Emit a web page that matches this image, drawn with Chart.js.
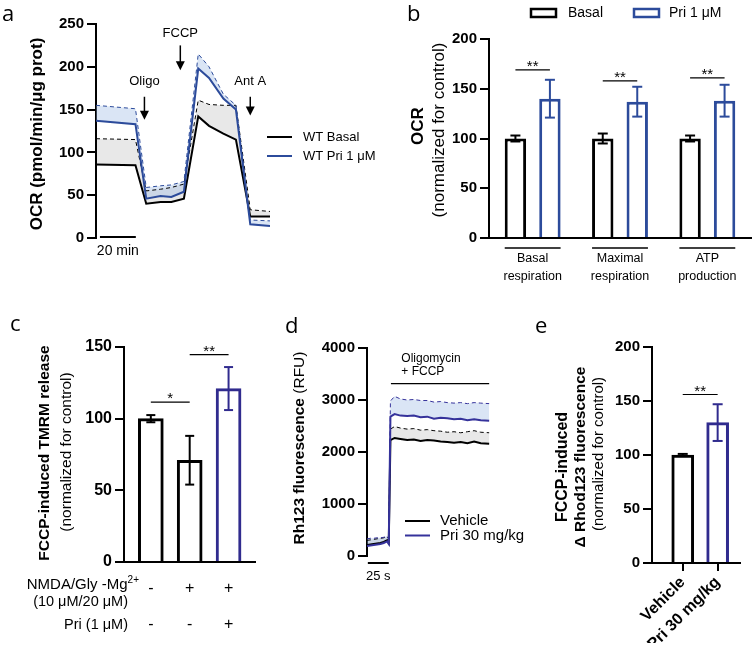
<!DOCTYPE html>
<html><head><meta charset="utf-8">
<script src="https://cdn.jsdelivr.net/npm/chart.js@4.4.0/dist/chart.umd.min.js"></script>
<style>
body{margin:0;background:#fff;width:752px;height:654px;overflow:hidden;position:relative}
canvas{position:absolute;left:0;top:0}
</style></head>
<body>
<canvas id="ca" width="752" height="654"></canvas>
<canvas id="cb" width="752" height="654"></canvas>
<canvas id="cc" width="752" height="654"></canvas>
<canvas id="cd" width="752" height="654"></canvas>
<canvas id="ce" width="752" height="654"></canvas>
<script>
// ---------- DATA ----------
// Panel a : OCR trace (minutes)
const aTime = [0, 22, 28, 36, 42, 49, 57, 63, 71, 78, 86, 97];
const aBasal = [86, 85, 40, 42, 42, 46, 142, 131, 122, 115, 25, 25];
const aBasalUpper = [116, 115, 55, 57, 59, 63, 161, 156, 155, 155, 33, 31];
const aPri = [137, 133, 46, 49, 48, 54, 198, 187, 163, 150, 16, 14];
const aPriUpper = [155, 151, 59, 61, 62, 66, 215, 200, 168, 155, 21, 20];
const aSeries = ['WT Basal', 'WT Pri 1 \u03bcM'];
const aInjLabels = ['Oligo', 'FCCP', 'Ant A'];
const aInjTimes = [27, 47, 86];
const aTicks = [0, 50, 100, 150, 200, 250];

// Panel b : normalized OCR
const bCategories = [['Basal', 'respiration'], ['Maximal', 'respiration'], ['ATP', 'production']];
const bSeries = ['Basal', 'Pri 1 \u03bcM'];
const bBasal = [100, 100, 100];
const bBasalErr = [3, 5, 3];
const bPri = [140, 137, 138];
const bPriErr = [19, 15, 16];
const bSig = ['**', '**', '**'];

// Panel c : TMRM release
const cMeans = [100, 71, 121];
const cErr = [2.5, 17, 15];
const cNmda = ['-', '+', '+'];
const cPriRow = ['-', '-', '+'];

// Panel d : Rh123 fluorescence trace (seconds)
const dTime = [0, 4, 8, 12, 16, 20, 24, 26, 28, 33, 40, 48, 56, 64, 72, 80, 88, 96, 104, 112, 120, 128, 136, 146];
const dVehicle = [210, 220, 230, 240, 250, 270, 300, 250, 2230, 2270, 2250, 2230, 2240, 2210, 2230, 2220, 2200, 2190, 2180, 2190, 2170, 2200, 2170, 2160];
const dVehicleUpper = [300, 310, 320, 330, 340, 350, 370, 330, 2440, 2490, 2460, 2440, 2450, 2420, 2430, 2410, 2400, 2380, 2390, 2370, 2390, 2410, 2380, 2370];
const dPri = [190, 200, 210, 220, 230, 250, 280, 230, 2680, 2730, 2700, 2690, 2700, 2670, 2680, 2640, 2660, 2650, 2630, 2640, 2610, 2630, 2610, 2600];
const dPriUpper = [330, 340, 340, 350, 350, 360, 380, 340, 2980, 3070, 3020, 3000, 3010, 2990, 2990, 2960, 2970, 2950, 2940, 2950, 2930, 2950, 2940, 2930];
const dSeries = ['Vehicle', 'Pri 30 mg/kg'];

// Panel e : Rhod123
const eLabels = ['Vehicle', 'Pri 30 mg/kg'];
const eMeans = [100, 130];
const eErr = [1, 17];

// ---------- STYLE ----------
const FONT = '"Liberation Sans", Arial, Helvetica, sans-serif';
const LFONT = '"Open Sans", "Liberation Sans", sans-serif';
const BLUE_A = '#2c4b9b';
const BLUE_C = '#302b8e';
const BLUE_D = '#35329b';
const FILL_BLUE = 'rgba(150,180,225,0.35)';
const FILL_GRAY = 'rgba(0,0,0,0.09)';

function T(ctx, s, x, y, o = {}) {
  ctx.save();
  ctx.font = `${o.weight || 'normal'} ${o.size || 14}px ${o.family || FONT}`;
  ctx.fillStyle = o.color || '#000';
  ctx.textAlign = o.align || 'center';
  ctx.textBaseline = o.base || 'middle';
  ctx.translate(x, y);
  if (o.rot) ctx.rotate(o.rot);
  ctx.fillText(s, 0, 0);
  ctx.restore();
}
function L(ctx, x1, y1, x2, y2, color = '#000', w = 1.5, dash = []) {
  ctx.save();
  ctx.strokeStyle = color; ctx.lineWidth = w; ctx.setLineDash(dash);
  ctx.beginPath(); ctx.moveTo(x1, y1); ctx.lineTo(x2, y2); ctx.stroke();
  ctx.restore();
}
function vtitle(ctx, parts, x, y) {
  ctx.save();
  ctx.translate(x, y); ctx.rotate(-Math.PI / 2);
  ctx.textBaseline = 'middle'; ctx.textAlign = 'left'; ctx.fillStyle = '#000';
  let total = 0;
  const ws = parts.map(p => { ctx.font = `${p.w} ${p.s}px ${FONT}`; const m = ctx.measureText(p.t).width; total += m; return m; });
  let cx = -total / 2;
  parts.forEach((p, i) => { ctx.font = `${p.w} ${p.s}px ${FONT}`; ctx.fillText(p.t, cx, 0); cx += ws[i]; });
  ctx.restore();
}
function arrowDown(ctx, x, yTop, yTip) {
  ctx.save();
  ctx.strokeStyle = '#000'; ctx.fillStyle = '#000'; ctx.lineWidth = 1.5;
  ctx.beginPath(); ctx.moveTo(x, yTop); ctx.lineTo(x, yTip - 6); ctx.stroke();
  ctx.beginPath(); ctx.moveTo(x - 4.5, yTip - 9); ctx.lineTo(x + 4.5, yTip - 9); ctx.lineTo(x, yTip); ctx.closePath(); ctx.fill();
  ctx.restore();
}
function pad(l, t, r, b, yW, xH) { return { left: l - yW, top: t, right: 752 - r, bottom: 654 - b - xH }; }
function yAxis(min, max, step, W, size = 15) {
  return {
    min, max,
    ticks: { stepSize: step, color: '#000', font: { family: FONT, size, weight: 'bold' }, padding: 3, callback: v => String(v) },
    grid: { display: true, drawOnChartArea: false, drawTicks: true, tickLength: 9, color: '#000', lineWidth: 2 },
    border: { display: true, color: '#000', width: 2 },
    afterFit(s) { s.width = W; }
  };
}
const baseOpts = () => ({
  responsive: false, animation: false, events: [],
  plugins: { legend: { display: false }, tooltip: { enabled: false }, filler: { drawTime: 'beforeDatasetsDraw' } }
});
const xy = (xs, ys) => xs.map((x, i) => ({ x, y: ys[i] }));

// error bars on bar charts
const errPlugin = {
  id: 'errbars',
  afterDatasetsDraw(chart) {
    const ctx = chart.ctx, ys = chart.scales.y;
    chart.data.datasets.forEach((ds, di) => {
      if (!ds.err) return;
      const meta = chart.getDatasetMeta(di);
      meta.data.forEach((bar, i) => {
        const v = meta.controller.getParsed(i).y;
        const col = Array.isArray(ds.borderColor) ? ds.borderColor[i] : ds.borderColor;
        const yt = ys.getPixelForValue(v + ds.err[i]);
        const yb = ys.getPixelForValue(v - ds.err[i]);
        const hw = ds.capHalf || 4.5;
        L(ctx, bar.x, yt, bar.x, yb, col, 2);
        L(ctx, bar.x - hw, yt, bar.x + hw, yt, col, 2);
        L(ctx, bar.x - hw, yb, bar.x + hw, yb, col, 2);
      });
    });
  }
};
function sigPlugin(list) {
  return {
    id: 'sig',
    afterDatasetsDraw(chart) {
      const ctx = chart.ctx, ys = chart.scales.y;
      list.forEach(s => {
        const xa = chart.getDatasetMeta(s.a[0]).data[s.a[1]].x;
        const xb = chart.getDatasetMeta(s.b[0]).data[s.b[1]].x;
        const py = ys.getPixelForValue(s.y);
        L(ctx, xa, py, xb, py, '#000', 1.2);
        T(ctx, s.text, (xa + xb) / 2, py + 1, { size: 15, base: 'alphabetic' });
      });
    }
  };
}

// ---------- PANEL A ----------
(function () {
  const o = baseOpts();
  o.layout = { padding: pad(96, 24, 270, 238, 60, 0) };
  o.scales = {
    x: { type: 'linear', min: 0, max: 97, display: false },
    y: Object.assign(yAxis(0, 250, 50, 60), { afterBuildTicks(s) { s.ticks = aTicks.map(v => ({ value: v })); } })
  };
  o.elements = { line: { tension: 0 }, point: { radius: 0 } };
  new Chart(document.getElementById('ca'), {
    type: 'line',
    data: {
      datasets: [
        { data: xy(aTime, aBasal), borderColor: '#000', borderWidth: 2, fill: false, order: 1 },
        { data: xy(aTime, aBasalUpper), borderColor: '#000', borderWidth: 1, borderDash: [4, 3], fill: { target: 0 }, backgroundColor: FILL_GRAY, order: 1 },
        { data: xy(aTime, aPri), borderColor: BLUE_A, borderWidth: 2, fill: false, order: 0 },
        { data: xy(aTime, aPriUpper), borderColor: BLUE_A, borderWidth: 1, borderDash: [4, 3], fill: { target: 2 }, backgroundColor: FILL_BLUE, order: 0 }
      ]
    },
    options: o,
    plugins: [{
      id: 'annA',
      afterDraw(c) {
        const ctx = c.ctx, xs = c.scales.x, ys = c.scales.y;
        const textY = [183, 239, 183], top = [165, 225, 165], tip = [138, 196, 143];
        aInjLabels.forEach((lab, i) => {
          const x = xs.getPixelForValue(aInjTimes[i]);
          T(ctx, lab, x, ys.getPixelForValue(textY[i]), { size: 13 });
          arrowDown(ctx, x, ys.getPixelForValue(top[i]), ys.getPixelForValue(tip[i]));
        });
        const y0 = ys.getPixelForValue(0) - 1;
        const x1 = xs.getPixelForValue(2.2), x2 = xs.getPixelForValue(22.2);
        L(ctx, x1, y0, x2, y0, '#000', 2);
        T(ctx, '20 min', (x1 + x2) / 2, y0 + 14, { size: 14 });
        aSeries.forEach((name, i) => {
          const y = 137 + i * 19;
          L(ctx, 267, y, 292, y, i ? BLUE_A : '#000', 2);
          T(ctx, name, 303, y, { size: 13, align: 'left' });
        });
        vtitle(ctx, [{ t: 'OCR (pmol/min/\u03bcg prot)', w: 'bold', s: 17 }], 37, 134);
        T(ctx, 'a', 2, 21, { size: 22, align: 'left', base: 'alphabetic', family: LFONT });
      }
    }]
  });
})();

// ---------- PANEL B ----------
(function () {
  const o = baseOpts();
  o.layout = { padding: pad(489, 39, 751, 238, 60, 45) };
  o.scales = {
    x: {
      type: 'category', offset: true,
      ticks: { color: '#000', font: { family: FONT, size: 12.5, lineHeight: 1.4 }, padding: 12 },
      grid: { display: false, drawTicks: false },
      border: { display: true, color: '#000', width: 2 },
      afterFit(s) { s.height = 45; }
    },
    y: yAxis(0, 200, 50, 60)
  };
  new Chart(document.getElementById('cb'), {
    type: 'bar',
    data: {
      labels: bCategories,
      datasets: [
        { label: bSeries[0], data: bBasal, err: bBasalErr, borderColor: '#000', backgroundColor: '#fff', borderWidth: 3, categoryPercentage: 0.79, barPercentage: 0.62, capHalf: 5 },
        { label: bSeries[1], data: bPri, err: bPriErr, borderColor: BLUE_A, backgroundColor: '#fff', borderWidth: 3, categoryPercentage: 0.79, barPercentage: 0.62, capHalf: 5 }
      ]
    },
    options: o,
    plugins: [errPlugin, sigPlugin([
      { a: [0, 0], b: [1, 0], y: 169, text: bSig[0] },
      { a: [0, 1], b: [1, 1], y: 158, text: bSig[1] },
      { a: [0, 2], b: [1, 2], y: 161, text: bSig[2] }
    ]), {
      id: 'annB',
      afterDraw(c) {
        const ctx = c.ctx;
        const m0 = c.getDatasetMeta(0), m1 = c.getDatasetMeta(1);
        const yb = c.chartArea.bottom + 10;
        m0.data.forEach((b, i) => {
          const r = m1.data[i];
          L(ctx, b.x - b.width / 2, yb, r.x + r.width / 2, yb, '#000', 1.3);
        });
        [['#000', 531, 568], [BLUE_A, 634, 669]].forEach((s, i) => {
          ctx.save(); ctx.strokeStyle = s[0]; ctx.lineWidth = 2.5; ctx.strokeRect(s[1], 9, 25, 8); ctx.restore();
          T(ctx, bSeries[i], s[2], 13.5, { size: 14, align: 'left' });
        });
        vtitle(ctx, [{ t: 'OCR', w: 'bold', s: 17 }], 418, 126);
        vtitle(ctx, [{ t: '(normalized for control)', w: 'normal', s: 17 }], 439, 130);
        T(ctx, 'b', 407, 21, { size: 22, align: 'left', base: 'alphabetic', family: LFONT });
      }
    }]
  });
})();

// ---------- PANEL C ----------
(function () {
  const o = baseOpts();
  o.layout = { padding: pad(124, 347, 255, 562, 60, 10) };
  o.scales = {
    x: {
      type: 'linear', min: 0.31, max: 3.68, offset: false,
      ticks: { display: false }, grid: { display: false, drawTicks: false, offset: false },
      border: { display: true, color: '#000', width: 2 },
      afterFit(s) { s.height = 10; }
    },
    y: yAxis(0, 150, 50, 60, 16)
  };
  new Chart(document.getElementById('cc'), {
    type: 'bar',
    data: {
      datasets: [{
        data: xy([1, 2, 3], cMeans), err: cErr,
        borderColor: ['#000', '#000', BLUE_C], backgroundColor: '#fff', borderWidth: 3, barThickness: 25, capHalf: 4.5
      }]
    },
    options: o,
    plugins: [errPlugin, sigPlugin([
      { a: [0, 0], b: [0, 1], y: 111.5, text: '*' },
      { a: [0, 1], b: [0, 2], y: 144.7, text: '**' }
    ]), {
      id: 'annC',
      afterDraw(c) {
        const ctx = c.ctx, xs = c.scales.x;
        [1, 2, 3].forEach((v, i) => {
          const x = xs.getPixelForValue(v);
          T(ctx, cNmda[i], x, 589, { size: 16 });
          T(ctx, cPriRow[i], x, 625, { size: 16 });
        });
        ctx.save();
        ctx.font = `normal 10px ${FONT}`;
        const supW = ctx.measureText('2+').width;
        ctx.restore();
        T(ctx, 'NMDA/Gly -Mg', 139 - supW, 585, { size: 15, align: 'right' });
        T(ctx, '2+', 139 - supW, 580, { size: 10, align: 'left' });
        T(ctx, '(10 \u03bcM/20 \u03bcM)', 128, 602, { size: 14.5, align: 'right' });
        T(ctx, 'Pri (1 \u03bcM)', 128, 625, { size: 14.5, align: 'right' });
        vtitle(ctx, [{ t: 'FCCP-induced TMRM release', w: 'bold', s: 15.5 }], 45, 453);
        vtitle(ctx, [{ t: '(normalized for control)', w: 'normal', s: 15.5 }], 67, 452);
        T(ctx, 'c', 10, 331, { size: 22, align: 'left', base: 'alphabetic', family: LFONT });
      }
    }]
  });
})();

// ---------- PANEL D ----------
(function () {
  const o = baseOpts();
  o.layout = { padding: pad(367, 348, 490, 556, 60, 0) };
  o.scales = {
    x: { type: 'linear', min: 0, max: 147, display: false },
    y: yAxis(0, 4000, 1000, 60)
  };
  o.elements = { line: { tension: 0 }, point: { radius: 0 } };
  new Chart(document.getElementById('cd'), {
    type: 'line',
    data: {
      datasets: [
        { data: xy(dTime, dVehicle), borderColor: '#000', borderWidth: 2, fill: false, order: 1 },
        { data: xy(dTime, dVehicleUpper), borderColor: '#000', borderWidth: 1, borderDash: [4, 3], fill: { target: 0 }, backgroundColor: FILL_GRAY, order: 1 },
        { data: xy(dTime, dPri), borderColor: BLUE_D, borderWidth: 2, fill: false, order: 0 },
        { data: xy(dTime, dPriUpper), borderColor: BLUE_D, borderWidth: 1, borderDash: [4, 3], fill: { target: 2 }, backgroundColor: FILL_BLUE, order: 0 }
      ]
    },
    options: o,
    plugins: [{
      id: 'annD',
      afterDraw(c) {
        const ctx = c.ctx, xs = c.scales.x, ys = c.scales.y;
        const yl = ys.getPixelForValue(3315);
        L(ctx, xs.getPixelForValue(28.6), yl, xs.getPixelForValue(146), yl, '#000', 1.3);
        T(ctx, 'Oligomycin', xs.getPixelForValue(41), ys.getPixelForValue(3800), { size: 12, align: 'left' });
        T(ctx, '+ FCCP', xs.getPixelForValue(41), ys.getPixelForValue(3537), { size: 12, align: 'left' });
        const yb = c.chartArea.bottom + 7;
        const x1 = xs.getPixelForValue(1), x2 = xs.getPixelForValue(26);
        L(ctx, x1, yb, x2, yb, '#000', 2);
        T(ctx, '25 s', (x1 + x2) / 2, yb + 13, { size: 13 });
        dSeries.forEach((name, i) => {
          const y = 521 + i * 14.5;
          L(ctx, 405, y, 430, y, i ? BLUE_D : '#000', 2);
          T(ctx, name, 440, y, { size: 15, align: 'left' });
        });
        vtitle(ctx, [{ t: 'Rh123 fluorescence ', w: 'bold', s: 15.5 }, { t: '(RFU)', w: 'normal', s: 15.5 }], 300, 448);
        T(ctx, 'd', 285, 333, { size: 22, align: 'left', base: 'alphabetic', family: LFONT });
      }
    }]
  });
})();

// ---------- PANEL E ----------
(function () {
  const o = baseOpts();
  o.layout = { padding: pad(652, 347, 740, 563, 60, 80) };
  o.scales = {
    x: {
      type: 'linear', min: 0.12, max: 2.64, offset: false,
      afterBuildTicks(s) { s.ticks = eLabels.map((_, i) => ({ value: i + 1 })); },
      ticks: { autoSkip: false, minRotation: 45, maxRotation: 45, color: '#000', font: { family: FONT, size: 16, weight: 'bold' }, padding: 2, callback: v => eLabels[v - 1] },
      grid: { display: true, offset: false, drawOnChartArea: false, drawTicks: true, tickLength: 8, color: '#000', lineWidth: 2 },
      border: { display: true, color: '#000', width: 2 },
      afterFit(s) { s.height = 80; }
    },
    y: yAxis(0, 200, 50, 60)
  };
  new Chart(document.getElementById('ce'), {
    type: 'bar',
    data: {
      datasets: [{
        data: xy([1, 2], eMeans), err: eErr,
        borderColor: ['#000', BLUE_C], backgroundColor: '#fff', borderWidth: 3, barThickness: 22, capHalf: 5
      }]
    },
    options: o,
    plugins: [errPlugin, sigPlugin([
      { a: [0, 0], b: [0, 1], y: 156, text: '**' }
    ]), {
      id: 'annE',
      afterDraw(c) {
        const ctx = c.ctx;
        vtitle(ctx, [{ t: 'FCCP-induced', w: 'bold', s: 16 }], 563, 467);
        vtitle(ctx, [{ t: '\u0394 Rhod123 fluorescence', w: 'bold', s: 15.5 }], 581, 457);
        vtitle(ctx, [{ t: '(normalized for control)', w: 'normal', s: 15 }], 598.5, 454);
        T(ctx, 'e', 535, 333, { size: 22, align: 'left', base: 'alphabetic', family: LFONT });
      }
    }]
  });
})();
</script>
</body></html>
